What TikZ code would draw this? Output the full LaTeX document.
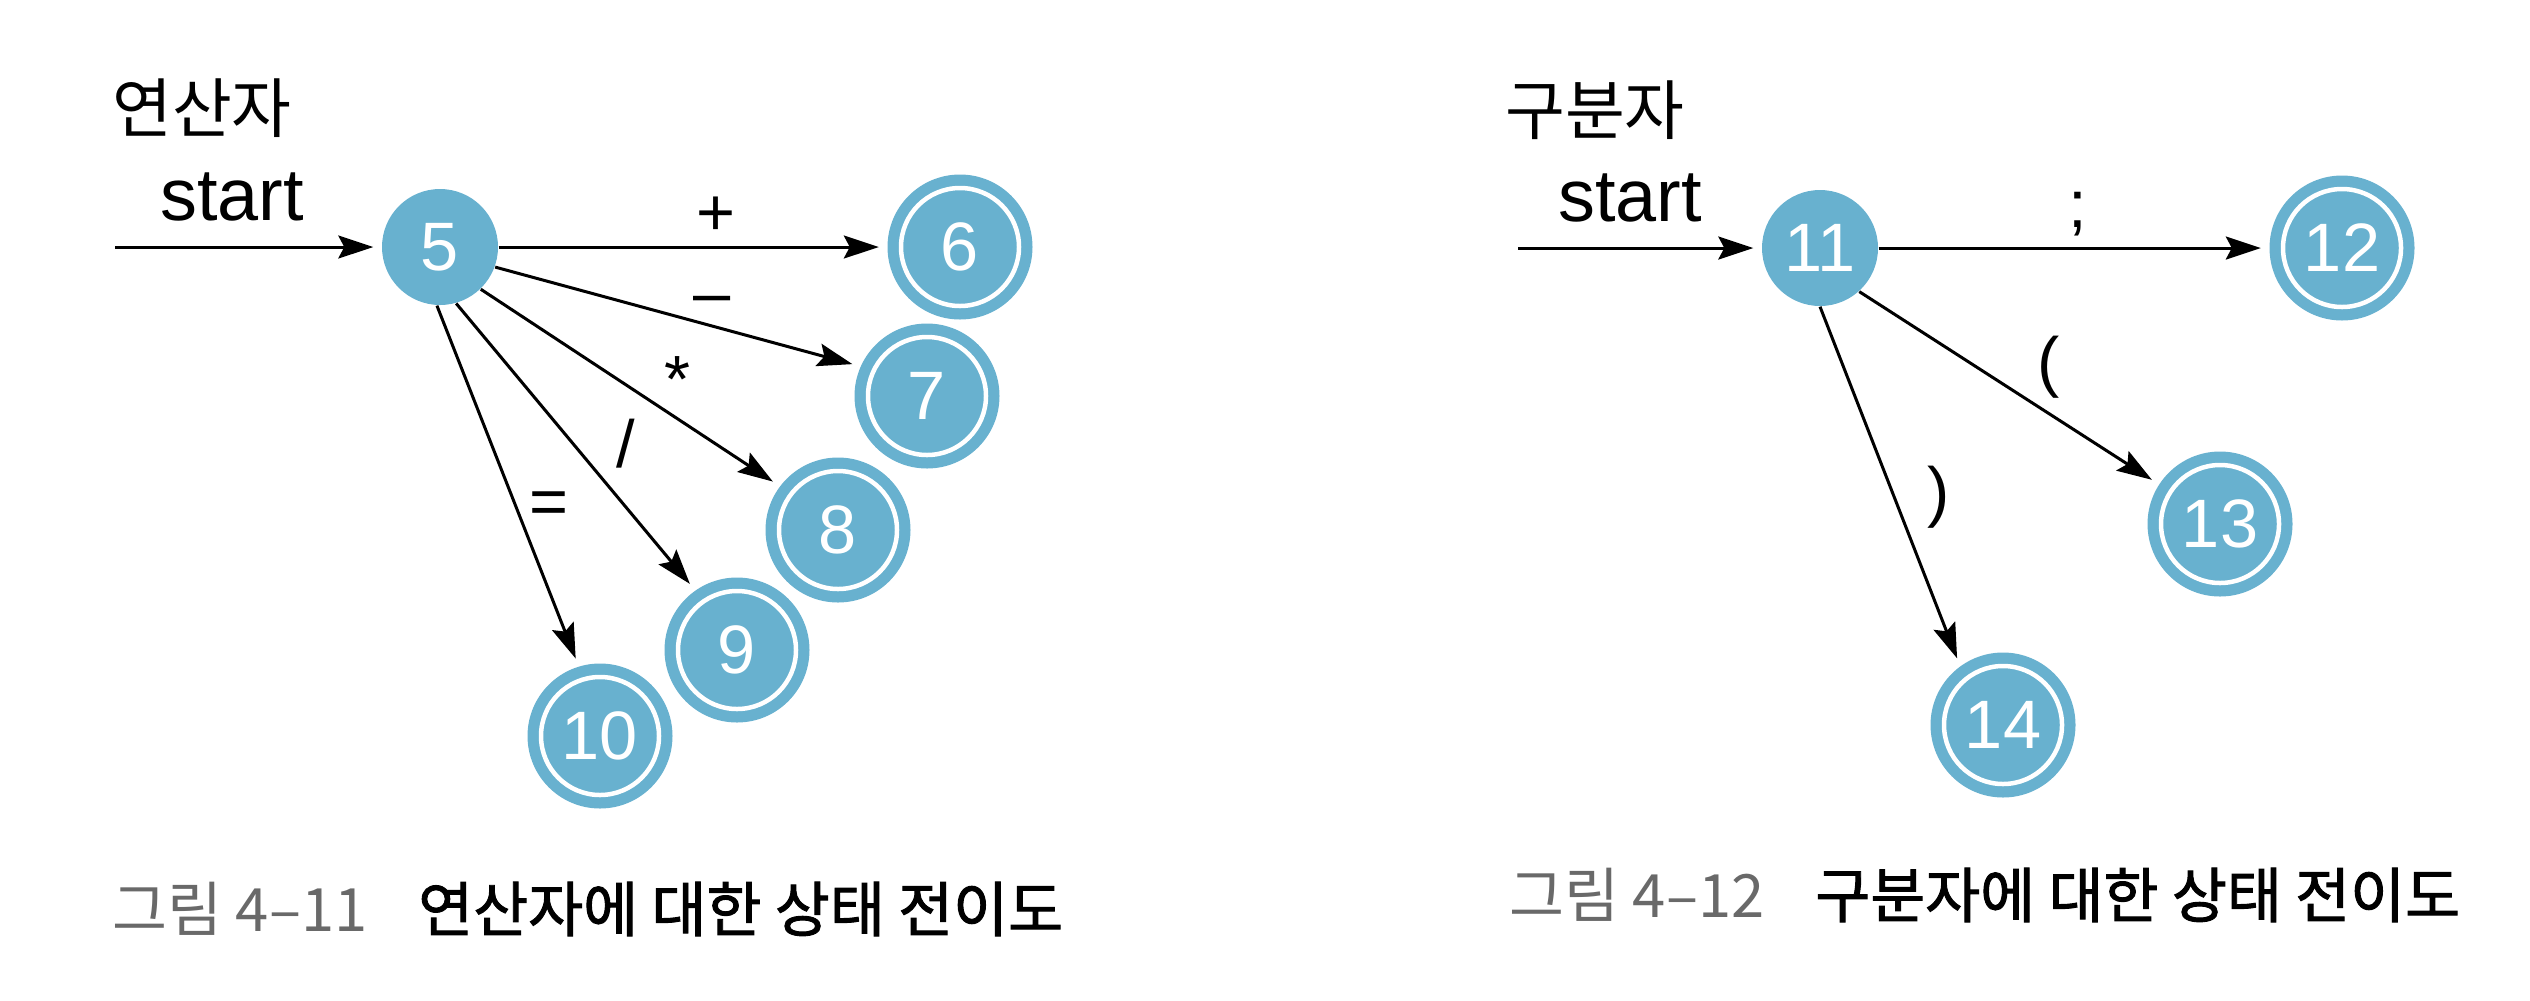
\documentclass[tikz,border=0pt]{standalone}
\usepackage{fontspec}
\setmainfont{Liberation Sans}
\newfontfamily\kr{Noto Sans CJK KR}
\newfontfamily\krb[FakeBold=1.6]{Noto Sans CJK KR}
\usetikzlibrary{arrows.meta, positioning}
\definecolor{stateblue}{RGB}{104,177,207}
\definecolor{capgray}{RGB}{105,105,105}

\begin{document}
\begin{tikzpicture}[
                x=0.1mm, y=-0.1mm,
                >={Stealth[length=3.5mm, width=2.3mm, inset=0.6mm]},
                state/.style={
                        circle, fill=stateblue, text=white, on grid,
                        inner sep=0pt, minimum size=11.6mm,
                        font=\fontsize{19.5}{19.5}\selectfont
                    },
                accept/.style={
                        state, minimum size=14.5mm,
                        path picture={\draw[white, line width=0.45mm]
                            (path picture bounding box.center) circle[radius=5.9mm];}
                    },
                arr/.style={->, line width=0.3mm, shorten >=0.8mm},
                lbl/.style={font=\fontsize{19}{19}\selectfont, inner sep=0.3mm},
                startlbl/.style={font=\fontsize{21}{21}\selectfont, inner sep=0pt, above=2.4mm},
                head/.style={font=\kr\fontsize{18.5}{18.5}\selectfont},
                figcap/.style={font=\kr\fontsize{17}{17}\selectfont, anchor=west, inner sep=0pt},
                ]
                \useasboundingbox (0,0) rectangle (2530,1000);

                % operators
                \node[head] (op) at (202,108) {연산자};
                \coordinate (in5) at (115,247);
                \node[state] (s5) at (440,247) {5};
                \node[accept, right=52mm of s5] (s6) {6};
                \node[accept, below right=14.9mm and 48.7mm of s5] (s7) {7};
                \node[accept, below right=28.3mm and 39.8mm of s5] (s8) {8};
                \node[accept, below right=40.3mm and 29.7mm of s5] (s9) {9};
                \node[accept, below right=48.9mm and 16mm of s5] (s10) {10};

                \draw[arr] (in5) -- node[startlbl, pos=.44] {start} (s5);
                \draw[arr] (s5) -- node[lbl, auto, pos=.56, inner sep=1mm] {+} (s6);
                \draw[arr] (s5.-20) -- node[lbl, auto, pos=.53] {–} (s7.156);
                \draw[arr] (s5.-46) -- node[lbl, auto, pos=.6] {*} (s8.143);
                \draw[arr] (s5.-74) -- node[lbl, auto, pos=.62, inner sep=1.1mm] {/} (s9.125);
                \draw[arr] (s5.-93) -- node[lbl, auto, pos=.62] {=} (s10.107);

                \node[figcap] (cap1) at (112,909) {{\color{capgray}그림 4–11}\hspace{0.85em}{\krb 연산자에 대한 상태 전이도}};

                % delimiters
                \node[head] (del) at (1595,110) {구분자};
                \coordinate (in11) at (1518,248);
                \node[state] (s11) at (1820,248) {11};
                \node[accept, right=52.2mm of s11] (s12) {12};
                \node[accept, below right=27.6mm and 40mm of s11] (s13) {13};
                \node[accept, below right=47.7mm and 18.3mm of s11] (s14) {14};

                \draw[arr] (in11) -- node[startlbl, pos=.46] {start} (s11);
                \draw[arr] (s11) -- node[lbl, auto, pos=.51, inner sep=1mm] {;} (s12);
                \draw[arr] (s11.-48) -- node[lbl, auto, pos=.58] {(} (s13.147);
                \draw[arr] (s11.south) -- node[lbl, auto, pos=.66, inner sep=1.4mm] {)} (s14.126);

                \node[figcap] (cap2) at (1509,895) {{\color{capgray}그림 4–12}\hspace{0.85em}{\krb 구분자에 대한 상태 전이도}};
            \end{tikzpicture}
\end{document}
